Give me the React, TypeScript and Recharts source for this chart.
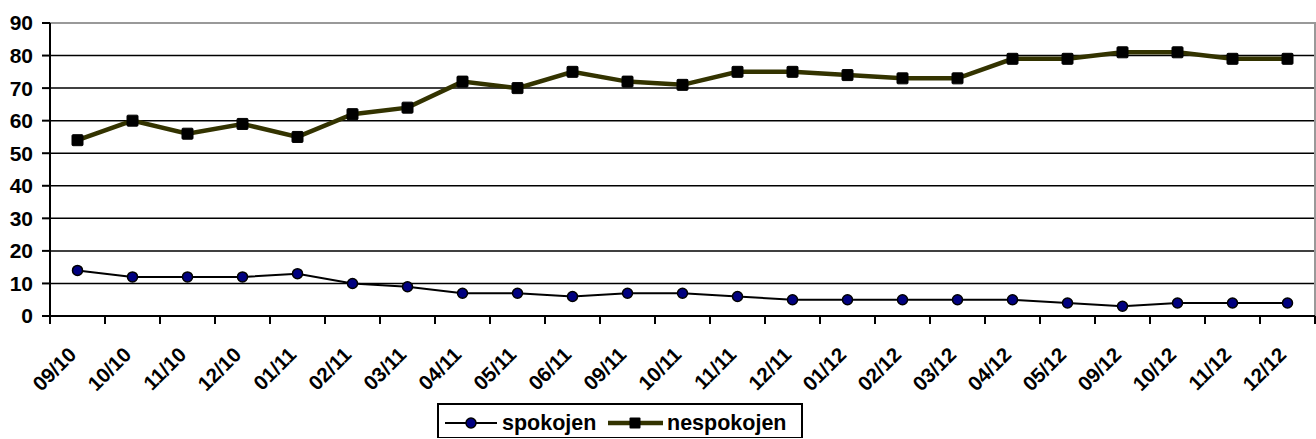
import React from 'react';
import { LineChart, Line, XAxis, YAxis, CartesianGrid, ReferenceArea } from 'recharts';

const categories = ['09/10','10/10','11/10','12/10','01/11','02/11','03/11','04/11','05/11','06/11','09/11','10/11','11/11','12/11','01/12','02/12','03/12','04/12','05/12','09/12','10/12','11/12','12/12'];
const spokojen = [14,12,12,12,13,10,9,7,7,6,7,7,6,5,5,5,5,5,4,3,4,4,4];
const nespokojen = [54,60,56,59,55,62,64,72,70,75,72,71,75,75,74,73,73,79,79,81,81,79,79];
const yTicks = [0,10,20,30,40,50,60,70,80,90];

const data = categories.map((c, i) => ({ cat: c, spokojen: spokojen[i], nespokojen: nespokojen[i] }));

const W = 1316;
const H = 439;
const M = { top: 23, right: 1, left: 0, bottom: 0 };
const Y_W = 50;
const X_H = 123;
const BAND = (W - M.left - M.right - Y_W) / categories.length;
const FONT = '"Liberation Sans", Arial, sans-serif';
const OLIVE = '#333300';
const NAVY = '#000080';

const XTick = (props: any) => {
  const { x, y, payload, index } = props;
  const half = BAND / 2;
  const last = index === categories.length - 1;
  const tx = x;
  const ty = y + 40;
  return (
    <g>
      <line x1={x - half} y1={y} x2={x - half} y2={y + 8} stroke="#000" strokeWidth={2} />
      {last && <line x1={x + half} y1={y} x2={x + half} y2={y + 8} stroke="#000" strokeWidth={2} />}
      <text x={tx} y={ty} transform={`rotate(-45, ${tx}, ${ty})`} textAnchor="end"
        fontFamily={FONT} fontWeight="bold" fontSize={20.5} fill="#000">{payload.value}</text>
    </g>
  );
};

const SquareDot = (props: any) => {
  const { cx, cy } = props;
  if (cx == null || cy == null) return null;
  return <rect x={cx - 5.5} y={cy - 5.5} width={11} height={11} rx={1} fill="#000" stroke="#000" strokeWidth={1} />;
};

const Legend = () => (
  <svg width={366} height={35} style={{ position: 'absolute', left: 437, top: 403 }}>
    <rect x={1} y={1} width={364} height={34} fill="#fff" stroke="#000" strokeWidth={2} />
    <line x1={8} y1={20} x2={60} y2={20} stroke="#000" strokeWidth={2} />
    <circle cx={34} cy={20} r={5} fill={NAVY} stroke="#000" strokeWidth={1.5} />
    <text x={65} y={27} fontFamily={FONT} fontWeight="bold" fontSize={21.5} fill="#000">spokojen</text>
    <line x1={171} y1={20} x2={226} y2={20} stroke={OLIVE} strokeWidth={4.5} />
    <rect x={192.5} y={14.5} width={11} height={11} rx={1} fill="#000" />
    <text x={230} y={27} fontFamily={FONT} fontWeight="bold" fontSize={21.5} fill="#000">nespokojen</text>
  </svg>
);

export default function App() {
  return (
    <div style={{ position: 'absolute', left: 0, top: 0, width: W, height: H, background: '#fff' }}>
      <LineChart width={W} height={H} data={data} margin={M}>
        <CartesianGrid vertical={false} stroke="#000" strokeWidth={1.5} />
        <ReferenceArea y1={0} y2={90} fill="none" fillOpacity={0} stroke="#999" strokeWidth={2} />
        <XAxis dataKey="cat" scale="band" height={X_H} interval={0} tickSize={0} tickMargin={0} tickLine={false}
          axisLine={{ stroke: '#000', strokeWidth: 2 }} tick={<XTick />} />
        <YAxis width={Y_W} domain={[0, 90]} ticks={yTicks} interval={0} tickSize={8} tickMargin={9}
          axisLine={{ stroke: '#000', strokeWidth: 2 }} tickLine={{ stroke: '#000', strokeWidth: 2 }}
          tick={{ fontFamily: FONT, fontWeight: 'bold', fontSize: 21, fill: '#000' }} />
        <Line dataKey="spokojen" stroke="#000" strokeWidth={2} isAnimationActive={false}
          dot={{ r: 5, fill: NAVY, stroke: '#000', strokeWidth: 1.5 }} activeDot={false} />
        <Line dataKey="nespokojen" stroke={OLIVE} strokeWidth={4.5} isAnimationActive={false}
          dot={<SquareDot />} activeDot={false} />
      </LineChart>
      <Legend />
    </div>
  );
}
